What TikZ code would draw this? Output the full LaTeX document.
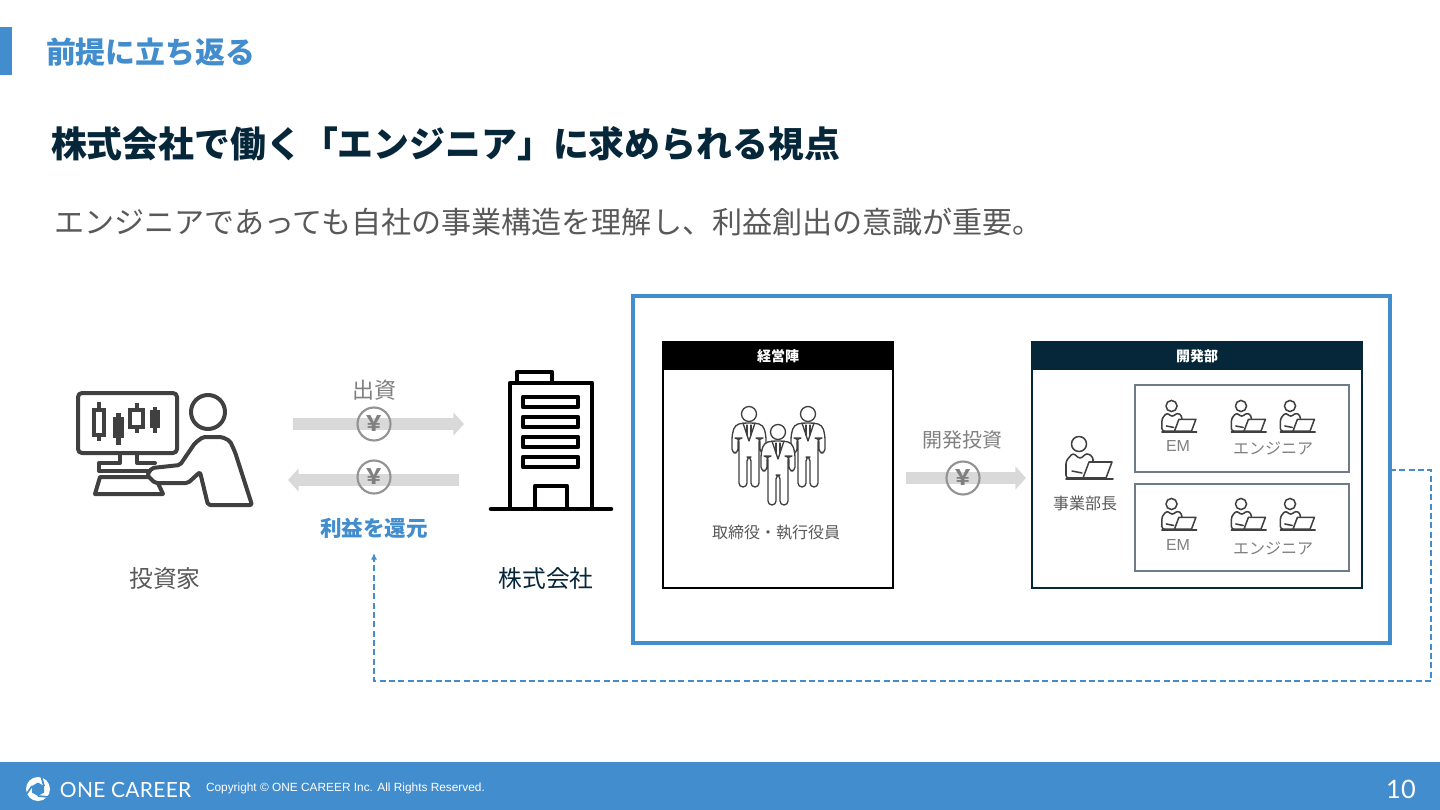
\documentclass[tikz,border=0pt]{standalone}
\usepackage{fontspec}
\setmainfont{Noto Sans CJK JP}
\newfontfamily\latinsans{Liberation Sans}
\newfontfamily\logofont[LetterSpace=1.5]{Lato}
\usetikzlibrary{positioning,arrows.meta,calc}
\definecolor{cBlue}{HTML}{428DCD}
\definecolor{cNavy}{HTML}{06263A}
\definecolor{cInk}{HTML}{404040}
\definecolor{cText}{HTML}{595959}
\definecolor{cSoft}{HTML}{808080}
\definecolor{cBand}{HTML}{D9D9D9}
\definecolor{cFrame}{HTML}{6E7B88}
\newcommand{\pxu}{0.75pt}
\newcommand{\fsz}[1]{\fontsize{#1}{#1}\selectfont}
\tikzset{
  txt/.style={inner sep=0pt, outer sep=0pt, align=center},
  headline/.style={txt, anchor=west, font=\fsz{22.4}\bfseries, text=cBlue},
  titleline/.style={txt, anchor=west, font=\fsz{26.9}\bfseries, text=cNavy},
  subline/.style={txt, anchor=west, font=\fsz{22.55}, text=cText},
  actor/.style={txt, font=\fsz{17.8}},
  flowlbl/.style={txt, font=\fsz{15.5}, text=cSoft},
  smalllbl/.style={txt, font=\fsz{12}, text=cSoft},
  boxb/.style={inner sep=0pt, outer sep=0pt, line width=1.5pt, fill=white,
               minimum width=#1*\pxu},
  hdr/.style={inner sep=0pt, outer sep=0pt, anchor=north, text=white,
              font=\fsz{10.5}\bfseries, minimum height=28*\pxu, minimum width=#1*\pxu},
  teamb/.style={inner sep=0pt, outer sep=0pt, draw=cFrame, line width=1.5pt,
                minimum width=214*\pxu, minimum height=87*\pxu},
  band/.style={-{Triangle[length=8pt, width=17pt]}, line width=9.5pt, cBand},
  yen/.style={circle, draw=cSoft!85, line width=1.6pt, minimum size=33*\pxu, inner sep=0pt,
              text=cSoft, font=\fsz{16}\bfseries},
  ret/.style={-{Latex[length=5pt, width=4.5pt]}, cBlue, line width=1pt, dash pattern=on 4.5pt off 2.5pt},
  thickic/.style={cInk, line width=3pt, line join=round, line cap=round},
  candle/.style={cInk, line width=3.4pt},
  thinic/.style={cInk, line width=1pt, line join=round, line cap=round},
  pics/worker/.style={code={
    \draw[thinic, line width=1.15pt] (0,0) circle (7.5);
    \draw[thinic, line width=1.15pt, rounded corners=2pt] (4,34) -- (-13,34) -- (-13,17) -- (-6,9) -- (1,15) -- (8,9) -- (14,13) -- (14,18);
    \draw[thinic, line width=1.15pt] (-7,27) -- (3,29);
    \draw[thinic, line width=1.15pt, fill=white] (4,34) -- (10,18) -- (33,18) -- (27,34) -- cycle;
    \draw[thinic, line width=1.15pt] (-13,35) -- (34,35);
  }},
  pics/suit/.style={code={
    \draw[thinic, fill=white] (0,0) circle (7.5);
    \draw[thinic, fill=white, rounded corners=3pt] (-6,9) -- (-14,11) -- (-17,21) -- (-17,39) -- (-11,39) -- (-11,24)
      -- (-10,24) -- (-10,73) -- (-2,73) -- (-2,43) -- (2,43) -- (2,73) -- (10,73) -- (10,24)
      -- (11,24) -- (11,39) -- (17,39) -- (17,21) -- (14,11) -- (6,9) -- cycle;
    \draw[thinic] (-6,9) -- (0,27) -- (6,9);
    \draw[thinic] (-2,11) -- (-2,21);
    \draw[thinic] (2,11) -- (2,21);
  }},
}
\begin{document}
\begin{tikzpicture}[x=\pxu, y=-\pxu]
  \useasboundingbox (0,0) rectangle (1440,810);
  \fill[white] (0,0) rectangle (1440,810);

  \fill[cBlue] (0,27) rectangle (12,75);
  \node[headline] (head) at (46,52) {前提に立ち返る};
  \node[titleline] (title) at (51,144) {株式会社で働く「エンジニア」に求められる視点};
  \node[subline] (sub) at (54,222) {エンジニアであっても自社の事業構造を理解し、利益創出の意識が重要。};

  % investor
  \draw[thickic, rounded corners=3pt] (78,393) rectangle (177,453);
  \draw[thickic] (208,412) circle (17);
  \draw[candle] (99,402) -- (99,441);
  \draw[cInk, line width=3pt, fill=white] (94,410) rectangle (104,435);
  \draw[candle] (118.5,413) -- (118.5,445);
  \fill[cInk] (113,417) rectangle (124,438);
  \draw[candle] (137,403) -- (137,433);
  \draw[cInk, line width=3pt, fill=white] (130,410) rectangle (143,427);
  \draw[candle] (155,407) -- (155,433);
  \fill[cInk] (150,410) rectangle (160,428);
  \draw[thickic] (120,453) -- (120,463) -- (99,463) -- (99,471) -- (148,471);
  \draw[thickic] (137,453) -- (137,463) -- (155,463);
  \draw[thickic] (148,477) -- (100,477) -- (95,494) -- (163,494) -- (157,481);
  \draw[thickic, fill=white, rounded corners=1.5pt] (152,468) -- (180,465) -- (195,443) -- (203,437) -- (222,437)
    -- (230,441) -- (235,452) -- (252,505) -- (208,505) -- (200,472) -- (188,483) -- (155,483) -- (147,475) -- cycle;

  % company
  \draw[black, line width=3.4pt, line cap=round] (491,509) -- (611,509);
  \draw[black, line width=3.4pt, line join=round] (510,509) -- (510,383) -- (592,383) -- (592,509);
  \draw[black, line width=3.4pt, line join=round] (517,383) -- (517,372) -- (552,372) -- (552,383);
  \foreach \winy in {397,417,437,457}
    \draw[black, line width=3.4pt, line join=round] (523,\winy) rectangle (578,\winy+10);
  \draw[black, line width=3.4pt, line join=round] (535,509) -- (535,486) -- (567,486) -- (567,509);

  \node[actor, text=cText] (investor) at (165,579) {投資家};
  \node[actor, text=cNavy] (company) at (546,579) {株式会社};

  % money flow
  \coordinate (outa) at (293,424);
  \coordinate (outb) at (464,424);
  \coordinate (backa) at (459,480);
  \coordinate (backb) at (288,480);
  \draw[band] (outa) -- (outb);
  \draw[band] (backa) -- (backb);
  \node[yen] (yenout) at (374,424) {￥};
  \node[yen] (yenback) at (374,477) {￥};
  \node[flowlbl, font=\fsz{16.5}] (capital) at (374,390) {出資};
  \node[txt, font=\fsz{16.2}\bfseries, text=cBlue] (profit) at (374,528) {利益を還元};

  % company frame
  \node[draw=cBlue, line width=2.3pt, inner sep=0pt, outer sep=0pt, minimum width=757*\pxu, minimum height=347*\pxu] (corp) at (1011.5,469.5) {};

  \node[boxb=230, draw=black, minimum height=246*\pxu] (mgmt) at (778,465) {};
  \node[hdr=230, fill=black] (mgmthdr) at (mgmt.north) {経営陣};
  \pic at (749,414) {suit};
  \pic at (808,414) {suit};
  \pic at (778,432) {suit};
  \node[smalllbl, text=cText] (exec) at (776,533) {取締役・執行役員};

  \coordinate (inva) at (906,478);
  \coordinate (invb) at (1026,478);
  \draw[band] (inva) -- (invb);
  \node[yen] (yeninv) at (963,478) {￥};
  \node[flowlbl, font=\fsz{15}] (invest) at (962,440) {開発投資};

  \node[boxb=330, draw=cNavy, minimum height=246*\pxu] (dev) at (1197,465) {};
  \node[hdr=330, fill=cNavy] (devhdr) at (dev.north) {開発部};
  \pic at (1079,444) {worker};
  \node[smalllbl, text=cText] (lead) at (1085,503) {事業部長};

  \node[teamb] (teama) at (1242,428.5) {};
  \node[teamb] (teamb) at (1242,527.5) {};
  \foreach \rowy in {406,504}
    \foreach \colx in {1171.5,1241,1290}
      \pic[scale=0.74] at (\colx,\rowy) {worker};
  \node[smalllbl, font=\latinsans\fsz{12}] (ema) at (1178,446) {EM};
  \node[smalllbl] (enga) at (1273,448) {エンジニア};
  \node[smalllbl, font=\latinsans\fsz{12}] (emb) at (1178,545) {EM};
  \node[smalllbl] (engb) at (1273,548) {エンジニア};

  % return
  \coordinate (rtna) at (corp.east |- 0,470);
  \coordinate (rtnb) at (1431,470);
  \coordinate (rtnc) at (1431,681);
  \coordinate (rtnd) at (374,681);
  \draw[ret, shorten >=11pt] (rtna) -- (rtnb) -- (rtnc) -- (rtnd) -- (profit.south);

  % footer
  \fill[cBlue] (0,762) rectangle (1440,810);
  \fill[white] (38,789) circle (12);
  \fill[cBlue] (38,782.5) -- (44,786) -- (44,792.5) -- (38,796) -- (32,792.5) -- (32,786) -- cycle;
  \draw[cBlue, line width=1.3pt] (44,786) -- (41,775.5) (32,786) -- (26.5,794) (38,796) -- (48.5,797);
  \node[txt, anchor=west, text=white, font=\logofont\fsz{15.7}] (logo) at (60,789.5) {ONE CAREER};
  \node[txt, anchor=west, text=white, font=\latinsans\fsz{8.9}] (copy) at (206,788) {Copyright © ONE CAREER Inc. All Rights Reserved.};
  \node[txt, text=white, font=\logofont\fsz{19}] (page) at (1401,789) {10};
\end{tikzpicture}
\end{document}
